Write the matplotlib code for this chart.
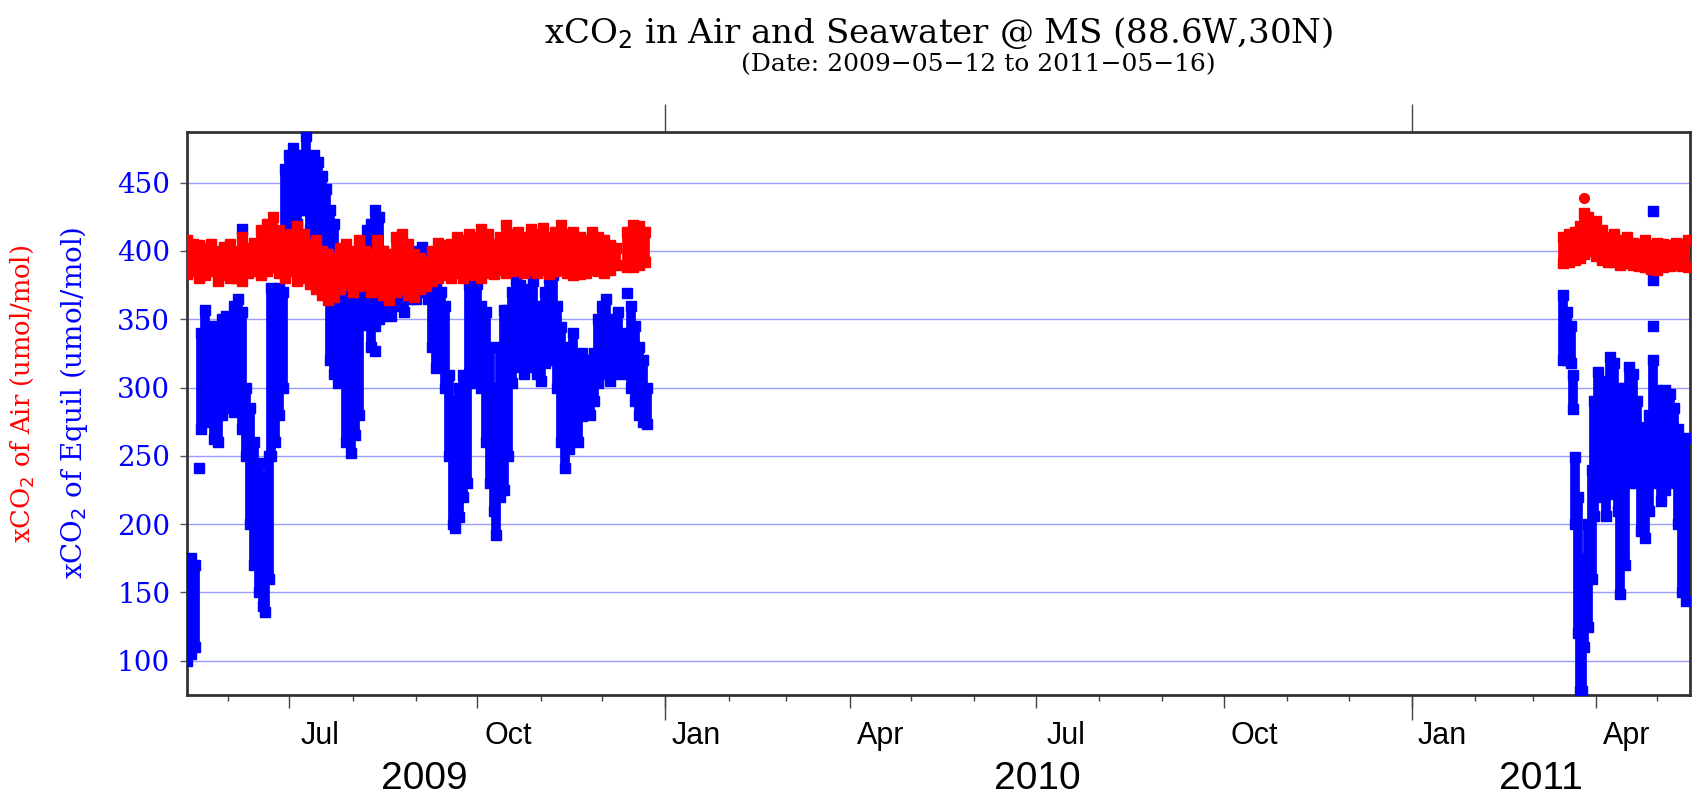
import matplotlib
matplotlib.use("Agg")
import matplotlib.pyplot as plt
import matplotlib.dates as mdates
import matplotlib.transforms as mtransforms
import pandas as pd

# xCO2 of Equil (seawater) - daily-ish ranges
blue_dates = ['2009-05-12', '2009-05-14', '2009-05-16',
              '2009-05-19', '2009-05-21', '2009-05-23', '2009-05-25', '2009-05-27',
              '2009-05-29', '2009-05-31', '2009-06-02', '2009-06-04', '2009-06-06',
              '2009-06-08', '2009-06-10', '2009-06-12', '2009-06-14', '2009-06-16',
              '2009-06-18', '2009-06-19', '2009-06-21', '2009-06-22', '2009-06-24',
              '2009-06-26', '2009-06-28', '2009-06-29', '2009-07-01', '2009-07-03',
              '2009-07-05', '2009-07-07', '2009-07-09', '2009-07-11', '2009-07-13',
              '2009-07-15', '2009-07-17', '2009-07-19', '2009-07-21', '2009-07-23',
              '2009-07-25', '2009-07-27', '2009-07-29', '2009-07-31', '2009-08-02',
              '2009-08-04', '2009-08-06', '2009-08-08', '2009-08-10', '2009-08-12',
              '2009-08-14', '2009-08-16', '2009-08-18', '2009-08-20', '2009-08-23',
              '2009-08-26', '2009-08-29', '2009-09-01', '2009-09-04', '2009-09-07',
              '2009-09-09', '2009-09-11', '2009-09-13', '2009-09-15', '2009-09-17',
              '2009-09-19', '2009-09-20', '2009-09-22', '2009-09-24', '2009-09-26',
              '2009-09-27', '2009-09-29', '2009-10-01', '2009-10-03', '2009-10-05',
              '2009-10-07', '2009-10-09', '2009-10-10', '2009-10-12', '2009-10-14',
              '2009-10-16', '2009-10-18', '2009-10-20', '2009-10-22', '2009-10-24',
              '2009-10-26', '2009-10-28', '2009-10-30', '2009-11-01', '2009-11-03',
              '2009-11-05', '2009-11-07', '2009-11-09', '2009-11-11', '2009-11-13',
              '2009-11-15', '2009-11-17', '2009-11-19', '2009-11-21', '2009-11-23',
              '2009-11-25', '2009-11-27', '2009-11-29', '2009-12-01', '2009-12-03',
              '2009-12-05', '2009-12-07', '2009-12-09', '2009-12-11', '2009-12-15',
              '2009-12-17', '2009-12-19', '2009-12-21', '2009-12-23',
              '2011-03-16', '2011-03-18', '2011-03-20', '2011-03-21', '2011-03-22',
              '2011-03-23', '2011-03-24', '2011-03-25', '2011-03-26', '2011-03-28',
              '2011-03-30', '2011-03-31', '2011-04-02', '2011-04-04', '2011-04-06',
              '2011-04-08', '2011-04-10', '2011-04-12', '2011-04-13', '2011-04-15',
              '2011-04-17', '2011-04-19', '2011-04-21', '2011-04-23', '2011-04-25',
              '2011-04-27', '2011-04-29', '2011-05-01', '2011-05-03', '2011-05-05',
              '2011-05-07', '2011-05-09', '2011-05-11', '2011-05-13', '2011-05-15']
blue_lo = [100, 105, 110,
           270, 275, 285, 262, 260,
           280, 290, 285, 282, 300,
           270, 250, 200, 170, 150,
           140, 136, 160, 250, 260,
           280, 300, 411, 420, 415,
           420, 430, 430, 415, 411,
           400, 390, 380, 320, 310,
           303, 310, 260, 252, 265,
           280, 346, 350, 330, 345,
           350, 352, 355, 352, 360,
           355, 365, 365, 370, 365,
           330, 314, 320, 300, 250,
           200, 197, 205, 220, 230,
           310, 303, 320, 300, 260,
           230, 210, 192, 220, 225,
           250, 303, 315, 320, 310,
           315, 320, 310, 305, 318,
           325, 320, 300, 260, 241,
           255, 270, 260, 279, 285,
           280, 290, 303, 310, 320,
           305, 310, 315, 310, 300,
           290, 280, 275, 273,
           320, 320, 318, 284, 200,
           120, 78, 78, 110, 125,
           160, 206, 220, 240, 206,
           222, 240, 210, 149, 170,
           230, 250, 230, 195, 190,
           210, 230, 235, 217, 225,
           240, 230, 200, 150, 144]
blue_hi = [150, 175, 170,
           340, 357, 330, 345, 330,
           350, 352, 350, 360, 365,
           355, 300, 285, 260, 245,
           235, 200, 250, 373, 370,
           373, 370, 460, 470, 475,
           465, 470, 484, 465, 470,
           465, 455, 445, 430, 420,
           365, 360, 379, 340, 370,
           380, 400, 415, 420, 430,
           425, 400, 385, 380, 380,
           378, 385, 400, 403, 395,
           385, 373, 370, 360, 309,
           290, 270, 300, 309, 303,
           376, 370, 376, 360, 355,
           330, 300, 280, 330, 357,
           357, 370, 379, 375, 365,
           372, 378, 360, 355, 370,
           380, 382, 360, 344, 320,
           330, 340, 315, 325, 320,
           315, 325, 350, 360, 365,
           350, 345, 355, 340, 360,
           345, 330, 320, 300,
           368, 355, 345, 309, 249,
           220, 160, 130, 175, 200,
           240, 290, 311, 305, 300,
           322, 318, 300, 230, 300,
           315, 310, 290, 260, 271,
           280, 320, 298, 290, 298,
           295, 285, 270, 250, 263]

# single stray readings
blue_pt_dates = ['2009-05-18', '2009-06-08', '2009-08-12', '2009-12-13',
                 '2011-04-29', '2011-04-29', '2011-04-29']
blue_pt_vals = [241, 416, 327, 369, 429, 379, 345]

# xCO2 of Air
red_dates = ['2009-05-12', '2009-05-15', '2009-05-18', '2009-05-21', '2009-05-24',
             '2009-05-27', '2009-05-30', '2009-06-02', '2009-06-05', '2009-06-08',
             '2009-06-11', '2009-06-14', '2009-06-17', '2009-06-20', '2009-06-23',
             '2009-06-26', '2009-06-29', '2009-07-02', '2009-07-05', '2009-07-08',
             '2009-07-11', '2009-07-14', '2009-07-17', '2009-07-20', '2009-07-23',
             '2009-07-26', '2009-07-29', '2009-08-01', '2009-08-04', '2009-08-07',
             '2009-08-10', '2009-08-13', '2009-08-16', '2009-08-19', '2009-08-22',
             '2009-08-25', '2009-08-28', '2009-08-31', '2009-09-03', '2009-09-06',
             '2009-09-09', '2009-09-12', '2009-09-15', '2009-09-18', '2009-09-21',
             '2009-09-24', '2009-09-27', '2009-09-30', '2009-10-03', '2009-10-06',
             '2009-10-09', '2009-10-12', '2009-10-15', '2009-10-18', '2009-10-21',
             '2009-10-24', '2009-10-27', '2009-10-30', '2009-11-02', '2009-11-05',
             '2009-11-08', '2009-11-11', '2009-11-14', '2009-11-17', '2009-11-20',
             '2009-11-23', '2009-11-26', '2009-11-29', '2009-12-02', '2009-12-05',
             '2009-12-08', '2009-12-13', '2009-12-16', '2009-12-19', '2009-12-22',
             '2011-03-16', '2011-03-19', '2011-03-22', '2011-03-24', '2011-03-26',
             '2011-03-28', '2011-04-01', '2011-04-04', '2011-04-07', '2011-04-10',
             '2011-04-13', '2011-04-16', '2011-04-19', '2011-04-22', '2011-04-25',
             '2011-04-28', '2011-05-01', '2011-05-04', '2011-05-07', '2011-05-10',
             '2011-05-13', '2011-05-16']
red_lo = [383, 385, 380, 382, 385, 378, 382, 380, 380, 378,
          384, 385, 382, 385, 388, 384, 380, 385, 378, 380,
          376, 372, 368, 364, 366, 372, 375, 370, 374, 376,
          370, 372, 368, 364, 370, 372, 368, 366, 372, 374,
          378, 380, 382, 380, 384, 380, 384, 382, 380, 384,
          383, 386, 384, 385, 386, 384, 386, 384, 386, 383,
          385, 386, 384, 382, 383, 384, 386, 385, 384, 386,
          390, 388, 388, 390, 392,
          391, 392, 393, 395, 398, 400, 396, 393, 392, 392,
          390, 391, 390, 389, 388, 387, 386, 388, 389, 390,
          389, 388]
red_hi = [408, 405, 404, 402, 405, 400, 403, 405, 400, 410,
          402, 406, 415, 420, 425, 415, 410, 412, 418, 412,
          405, 408, 400, 398, 395, 402, 405, 400, 408, 400,
          398, 408, 400, 398, 410, 412, 405, 398, 395, 392,
          400, 406, 404, 405, 410, 408, 412, 410, 416, 412,
          405, 410, 419, 412, 414, 410, 416, 412, 417, 410,
          414, 419, 412, 414, 410, 408, 414, 410, 408, 404,
          402, 414, 419, 418, 414,
          410, 412, 414, 418, 428, 425, 422, 415, 410, 412,
          408, 410, 406, 405, 408, 404, 406, 405, 404, 406,
          405, 408]
red_pt_dates = ['2011-03-26']
red_pt_vals = [439]

y_ticks = [100, 150, 200, 250, 300, 350, 400, 450]
month_labels = ['Jul', 'Oct', 'Jan', 'Apr', 'Jul', 'Oct', 'Jan', 'Apr']
month_label_dates = ['2009-07-16', '2009-10-16', '2010-01-16', '2010-04-16',
                     '2010-07-16', '2010-10-16', '2011-01-16', '2011-04-16']
year_labels = ['2009', '2010', '2011']
year_label_dates = ['2009-09-05', '2010-07-02', '2011-03-05']

BLUE = '#0000ff'
RED = '#ff0000'
W = 7.0   # column width (pt)
MS = 6.5

fig = plt.figure(figsize=(16.98, 7.95), dpi=100)
ax = fig.add_axes([0.1101, 0.1258, 0.8852, 0.7082])

bd = pd.to_datetime(blue_dates)
rd = pd.to_datetime(red_dates)

# blue: columns of readings per day
ax.vlines(bd, blue_lo, blue_hi, color=BLUE, lw=W, zorder=3)
ax.plot(bd, blue_lo, 's', color=BLUE, ms=MS, zorder=3)
ax.plot(bd, blue_hi, 's', color=BLUE, ms=MS, zorder=3)
ax.plot(pd.to_datetime(blue_pt_dates), blue_pt_vals, 's', color=BLUE, ms=MS, zorder=3)

# red on top
ax.vlines(rd, red_lo, red_hi, color=RED, lw=W, zorder=4)
ax.plot(rd, red_lo, 's', color=RED, ms=MS, zorder=4)
ax.plot(rd, red_hi, 's', color=RED, ms=MS, zorder=4)
ax.plot(pd.to_datetime(red_pt_dates), red_pt_vals, 'o', color=RED, ms=7, zorder=4)

ax.set_xlim(pd.Timestamp('2009-05-12'), pd.Timestamp('2011-05-17'))
ax.set_ylim(75, 487)

ax.set_yticks(y_ticks)
ax.set_yticklabels([str(v) for v in y_ticks], color=BLUE, fontsize=20,
                   family='DejaVu Serif')
ax.yaxis.grid(True, color='#9a9aff', lw=1.0, zorder=0)
ax.tick_params(axis='y', direction='out', length=5, width=1, color='#555555', pad=7)

ax.xaxis.set_major_locator(mdates.MonthLocator(bymonth=[1, 4, 7, 10]))
ax.xaxis.set_minor_locator(mdates.MonthLocator())
ax.tick_params(axis='x', which='major', direction='out', length=9, width=1,
               color='#444444', labelbottom=False)
ax.tick_params(axis='x', which='minor', direction='out', length=4, width=1,
               color='#444444')

for s in ax.spines.values():
    s.set_color('#333333')
    s.set_linewidth(2.0)

# longer year ticks, bottom and top
year_ticks = [mdates.date2num(pd.Timestamp(d)) for d in ['2010-01-01', '2011-01-01']]
sec_b = ax.secondary_xaxis('bottom')
sec_b.set_xticks(year_ticks)
sec_b.tick_params(length=18, width=1, color='#444444', labelbottom=False)
sec_b.spines['bottom'].set_visible(False)
sec_t = ax.secondary_xaxis('top')
sec_t.set_xticks(year_ticks)
sec_t.tick_params(length=20, width=1, color='#444444', labeltop=False)
sec_t.spines['top'].set_visible(False)

trans = mtransforms.blended_transform_factory(ax.transData, ax.transAxes)
for lab, d in zip(month_labels, month_label_dates):
    ax.text(mdates.date2num(pd.Timestamp(d)), -0.073, lab, transform=trans,
            ha='center', va='center', fontsize=22, family='Liberation Sans')
for lab, d in zip(year_labels, year_label_dates):
    ax.text(mdates.date2num(pd.Timestamp(d)), -0.15, lab, transform=trans,
            ha='center', va='center', fontsize=28, family='Liberation Sans')

# two-colour y label
fig.text(0.013, 0.505, 'xCO$_2$ of Air (umol/mol)', rotation=90, color=RED,
         ha='center', va='center', fontsize=18.5, family='DejaVu Serif')
fig.text(0.0436, 0.493, 'xCO$_2$ of Equil (umol/mol)', rotation=90, color=BLUE,
         ha='center', va='center', fontsize=20, family='DejaVu Serif')

fig.text(0.5525, 0.959, 'xCO$_2$ in Air and Seawater @ MS (88.6W,30N)',
         ha='center', va='center', fontsize=24.5, family='DejaVu Serif')
fig.text(0.576, 0.918, '(Date: 2009\u221205\u221212 to 2011\u221205\u221216)',
         ha='center', va='center', fontsize=18, family='DejaVu Serif')

fig.savefig('out.png', dpi=100)
